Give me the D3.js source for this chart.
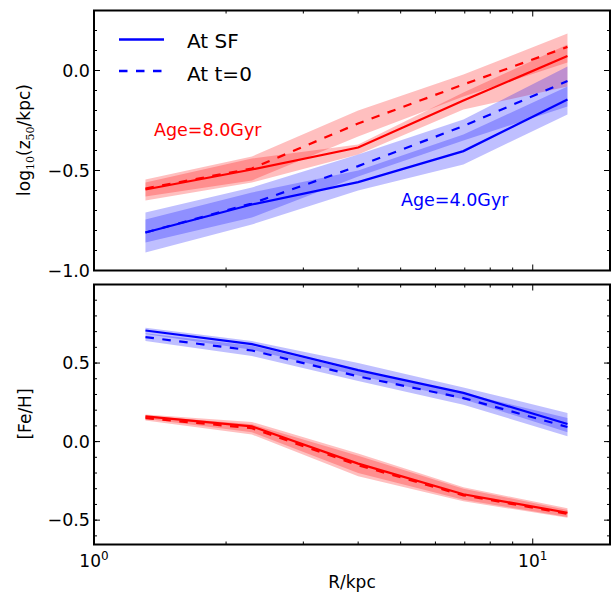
<!DOCTYPE html>
<html><head><meta charset="utf-8">
<script src="https://cdn.jsdelivr.net/npm/d3@7"></script>
<style>body{margin:0;background:#fff}svg{display:block}text{font-family:"DejaVu Sans",sans-serif}</style>
</head><body>
<svg id="c" width="614" height="596"></svg>
<script>
// ---- data ----
const radius = [1.31, 2.29, 4.0, 6.95, 12.0];
// top panel: log10(z50/kpc)
const zOldSF    = [-0.595, -0.495, -0.385, -0.15, 0.072];
const zOldSFlo  = [-0.65, -0.56, -0.42, -0.195, -0.08];
const zOldSFhi  = [-0.56, -0.44, -0.37, -0.11, 0.13];
const zOldT0    = [-0.59, -0.49, -0.265, -0.07, 0.118];
const zOldT0lo  = [-0.63, -0.55, -0.33, -0.13, 0.04];
const zOldT0hi  = [-0.545, -0.43, -0.20, -0.02, 0.185];
const zYngSF    = [-0.81, -0.67, -0.558, -0.403, -0.145];
const zYngSFlo  = [-0.91, -0.77, -0.60, -0.47, -0.22];
const zYngSFhi  = [-0.745, -0.61, -0.50, -0.32, -0.08];
const zYngT0    = [-0.81, -0.665, -0.478, -0.278, -0.053];
const zYngT0lo  = [-0.86, -0.735, -0.53, -0.35, -0.18];
const zYngT0hi  = [-0.71, -0.585, -0.42, -0.245, 0.02];
// bottom panel: [Fe/H]
const feYngSF   = [0.707, 0.62, 0.455, 0.31, 0.112];
const feYngSFlo = [0.685, 0.585, 0.42, 0.27, 0.06];
const feYngSFhi = [0.725, 0.64, 0.50, 0.345, 0.182];
const feYngT0   = [0.665, 0.58, 0.415, 0.277, 0.093];
const feYngT0lo = [0.64, 0.545, 0.385, 0.235, 0.034];
const feYngT0hi = [0.69, 0.61, 0.45, 0.31, 0.15];
const feOldSF   = [0.161, 0.097, -0.14, -0.335, -0.453];
const feOldSFlo = [0.145, 0.06, -0.20, -0.37, -0.48];
const feOldSFhi = [0.172, 0.125, -0.075, -0.29, -0.425];
const feOldT0   = [0.15, 0.085, -0.15, -0.342, -0.46];
const feOldT0lo = [0.135, 0.045, -0.22, -0.38, -0.485];
const feOldT0hi = [0.165, 0.11, -0.09, -0.30, -0.435];
// ticks
const topMajor = [-1.0, -0.5, 0.0];
const topLabels = ["\u22121.0", "\u22120.5", "0.0"];
const botMajor = [-0.5, 0.0, 0.5];
const botLabels = ["\u22120.5", "0.0", "0.5"];
const xMajor = [1, 10];
const xMinor = [2, 3, 4, 5, 6, 7, 8, 9];
const legendLabels = ["At SF", "At t=0"];
const ageLabels = ["Age=8.0Gyr", "Age=4.0Gyr"];

// ---- layout ----
const svg = d3.select("#c");
const X0 = 94, X1 = 610;
const x = d3.scaleLog().domain([1, 15]).range([X0, X1]);
const yTop = d3.scaleLinear().domain([-1.0, 0.3]).range([270.5, 10.5]);
const yBot = d3.scaleLinear().domain([-0.655, 1.0]).range([544.5, 284.5]);
const RED = "#ff0000", BLUE = "#0000ff";

function panel(y, bands, lines, major, labels, minorFrom, minorTo, clipId) {
  const [ya, yb] = [y.range()[1], y.range()[0]];
  svg.append("clipPath").attr("id", clipId).append("rect")
    .attr("x", X0).attr("y", ya).attr("width", X1 - X0).attr("height", yb - ya);
  const g = svg.append("g").attr("clip-path", `url(#${clipId})`);
  const area = d3.area().x((d, i) => x(radius[i])).y0(d => y(d[0])).y1(d => y(d[1]));
  bands.forEach(b => {
    g.append("path").attr("d", area(b.lo.map((v, i) => [v, b.hi[i]])))
      .attr("fill", b.c).attr("fill-opacity", 0.25).attr("stroke", "none");
  });
  const line = d3.line().x((d, i) => x(radius[i])).y(d => y(d));
  lines.forEach(l => {
    g.append("path").attr("d", line(l.v)).attr("fill", "none")
      .attr("stroke", l.c).attr("stroke-width", 2.2)
      .attr("stroke-dasharray", l.dash ? "8.5,8.5" : null);
  });
  // ticks
  const t = svg.append("g").attr("stroke", "#000").attr("stroke-width", 1);
  const minorVals = d3.range(Math.round(minorFrom * 10), Math.round(minorTo * 10) + 1).map(v => v / 10);
  minorVals.forEach(v => {
    const yy = y(v);
    t.append("line").attr("x1", X0).attr("x2", X0 + 3).attr("y1", yy).attr("y2", yy);
    t.append("line").attr("x1", X1).attr("x2", X1 - 3).attr("y1", yy).attr("y2", yy);
  });
  major.forEach(v => {
    const yy = y(v);
    t.append("line").attr("x1", X0).attr("x2", X0 + 6).attr("y1", yy).attr("y2", yy);
    t.append("line").attr("x1", X1).attr("x2", X1 - 6).attr("y1", yy).attr("y2", yy);
  });
  xMinor.forEach(v => {
    const xx = x(v);
    t.append("line").attr("x1", xx).attr("x2", xx).attr("y1", yb).attr("y2", yb - 3);
    t.append("line").attr("x1", xx).attr("x2", xx).attr("y1", ya).attr("y2", ya + 3);
  });
  xMajor.forEach(v => {
    const xx = x(v);
    t.append("line").attr("x1", xx).attr("x2", xx).attr("y1", yb).attr("y2", yb - 6);
    t.append("line").attr("x1", xx).attr("x2", xx).attr("y1", ya).attr("y2", ya + 6);
  });
  // frame
  svg.append("rect").attr("x", X0).attr("y", ya).attr("width", X1 - X0).attr("height", yb - ya)
    .attr("fill", "none").attr("stroke", "#000").attr("stroke-width", 2);
  // tick labels
  major.forEach((v, i) => {
    svg.append("text").attr("x", X0 - 4).attr("y", y(v)).attr("dy", "0.36em")
      .attr("text-anchor", "end").attr("font-size", 17.5).text(labels[i]);
  });
}

panel(yTop,
  [
    {lo: zOldSFlo, hi: zOldSFhi, c: RED}, {lo: zOldT0lo, hi: zOldT0hi, c: RED},
    {lo: zYngSFlo, hi: zYngSFhi, c: BLUE}, {lo: zYngT0lo, hi: zYngT0hi, c: BLUE}
  ],
  [
    {v: zOldSF, c: RED}, {v: zOldT0, c: RED, dash: true},
    {v: zYngSF, c: BLUE}, {v: zYngT0, c: BLUE, dash: true}
  ], topMajor, topLabels, -0.9, 0.2, "clipTop");

panel(yBot,
  [
    {lo: feYngSFlo, hi: feYngSFhi, c: BLUE}, {lo: feYngT0lo, hi: feYngT0hi, c: BLUE},
    {lo: feOldSFlo, hi: feOldSFhi, c: RED}, {lo: feOldT0lo, hi: feOldT0hi, c: RED}
  ],
  [
    {v: feYngSF, c: BLUE}, {v: feYngT0, c: BLUE, dash: true},
    {v: feOldSF, c: RED}, {v: feOldT0, c: RED, dash: true}
  ], botMajor, botLabels, -0.6, 0.9, "clipBot");

// x tick labels (10^0, 10^1)
xMajor.forEach((v, i) => {
  const tx = svg.append("text").attr("x", x(v)).attr("y", 567).attr("text-anchor", "middle").attr("font-size", 17);
  tx.append("tspan").text("10");
  tx.append("tspan").attr("dy", -7).attr("font-size", 12).text(String(i));
});

// axis labels
svg.append("text").attr("x", 352).attr("y", 588).attr("text-anchor", "middle")
  .attr("font-size", 17).text("R/kpc");
const yl = svg.append("text").attr("transform", "translate(30,140) rotate(-90)")
  .attr("text-anchor", "middle").attr("font-size", 17);
yl.append("tspan").text("log");
yl.append("tspan").attr("font-size", 11).attr("dy", 4).attr("font-family", "DejaVu Serif").text("10");
yl.append("tspan").attr("dy", -4).text("(z");
yl.append("tspan").attr("font-size", 11).attr("dy", 4).attr("font-family", "DejaVu Serif").text("50");
yl.append("tspan").attr("dy", -4).text("/kpc)");
svg.append("text").attr("transform", "translate(31,414) rotate(-90)")
  .attr("text-anchor", "middle").attr("font-size", 17).text("[Fe/H]");

// legend
[0, 1].forEach(i => {
  const ly = [39.5, 71][i];
  svg.append("line").attr("x1", 119).attr("x2", 164).attr("y1", ly).attr("y2", ly)
    .attr("stroke", BLUE).attr("stroke-width", 2.4)
    .attr("stroke-dasharray", i ? "8.5,8.5" : null);
  svg.append("text").attr("x", 187).attr("y", [47.5, 80.5][i]).attr("font-size", 20)
    .text(legendLabels[i]);
});

// annotations
svg.append("text").attr("x", 154).attr("y", 135.5).attr("font-size", 17.5).attr("fill", RED).text(ageLabels[0]);
svg.append("text").attr("x", 401).attr("y", 205.5).attr("font-size", 17.5).attr("fill", BLUE).text(ageLabels[1]);
</script>
</body></html>
